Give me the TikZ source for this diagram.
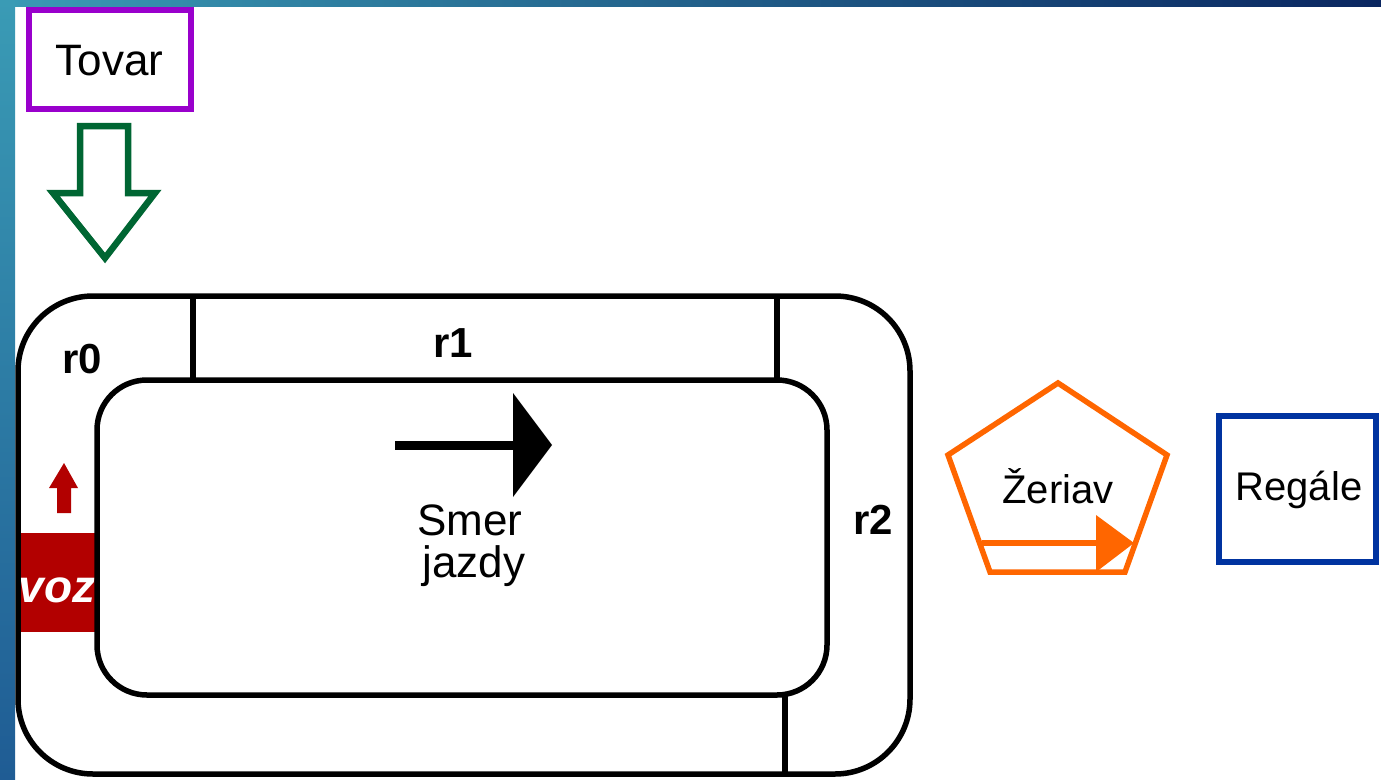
\documentclass[tikz,border=0pt]{standalone}
\usepackage{fontspec}
\setmainfont{Liberation Sans}
\definecolor{bgteal}{HTML}{3A9BB5}
\definecolor{bgnavy}{HTML}{0A2660}
\definecolor{bgblue}{HTML}{1F5C94}
\definecolor{goodsc}{HTML}{9900CC}
\definecolor{flowc}{HTML}{006633}
\definecolor{cranec}{HTML}{FF6600}
\definecolor{shelfc}{HTML}{0033A0}
\definecolor{cartc}{HTML}{B20000}
\begin{document}
\begin{tikzpicture}[x=1pt,y=-1pt,line join=miter,
  track/.style={draw=black,line width=5.5pt},
  frame/.style={line width=5.5pt,inner sep=0pt},
  txt/.style={inner sep=0pt,anchor=base,font=\fontsize{40}{43}\selectfont},
  bigtxt/.style={inner sep=0pt,anchor=base,font=\fontsize{44}{42}\selectfont},
  seg/.style={inner sep=0pt,anchor=base,font=\fontsize{42}{44}\selectfont\bfseries}]
\useasboundingbox (0,0) rectangle (1381,779);
% slide backdrop
\fill[white] (0,0) rectangle (1381,779);
\shade[left color=bgteal,right color=bgnavy] (0,0) rectangle (1381,6);
\shade[top color=bgteal,bottom color=bgblue] (0,0) rectangle (15,779);

% goods source and infeed arrow
\node[frame,draw=goodsc,minimum width=162pt,minimum height=99pt] (tovar) at (110,59.5) {};
\node[bigtxt] (tovart) at (109.5,75) {Tovar};
\draw[flowc,line width=6.5pt] (80,126) -- (128,126) -- (128,193) -- (155,193)
  -- (105,258) -- (53,193) -- (80,193) -- cycle;

% cart on the track
\fill[cartc] (20,533) rectangle (95,632);
\node[inner sep=0pt,anchor=base,text=white,font=\fontsize{46}{46}\selectfont\bfseries\itshape] (voz) at (57,602) {voz};
\fill[cartc] (57,513) -- (71,513) -- (71,488) -- (78,488) -- (64,463)
  -- (49,488) -- (57,488) -- cycle;

% track loop
\draw[track,rounded corners=75pt] (18,296) rectangle (910,774);
\draw[track,rounded corners=50pt] (97,380) rectangle (827,695);
\coordinate (d1a) at (193,296); \coordinate (d1b) at (193,380);
\coordinate (d2a) at (777,296); \coordinate (d2b) at (777,380);
\coordinate (d3a) at (785,695); \coordinate (d3b) at (785,774);
\draw[track] (d1a) -- (d1b);
\draw[track] (d2a) -- (d2b);
\draw[track] (d3a) -- (d3b);

\node[seg] (r0) at (82,373) {r0};
\node[seg] (r1) at (453,357) {r1};
\node[seg] (r2) at (873,534) {r2};

% direction of travel
\coordinate (dirA) at (395,445);
\coordinate (dirB) at (513,445);
\draw[line width=9pt] (dirA) -- (dirB);
\fill (513,393) -- (552,445) -- (513,497) -- cycle;
\node[bigtxt] (smer) at (470,535) {Smer};
\node[bigtxt] (jazdy) at (474,577) {jazdy};

% crane
\draw[cranec,line width=5.5pt] (1058,383) -- (1167,455) -- (1125,572)
  -- (990,572) -- (948,455) -- cycle;
\node[txt] (zeriav) at (1058,503) {Žeriav};
\coordinate (crA) at (982,543);
\coordinate (crB) at (1096,543);
\draw[cranec,line width=6pt] (crA) -- (crB);
\fill[cranec] (1096,515) -- (1134,543) -- (1096,572) -- cycle;

% shelves
\node[frame,draw=shelfc,minimum width=157pt,minimum height=146pt] (regale) at (1297.5,489) {};
\node[txt] (regalet) at (1299,500) {Regále};
\end{tikzpicture}
\end{document}
